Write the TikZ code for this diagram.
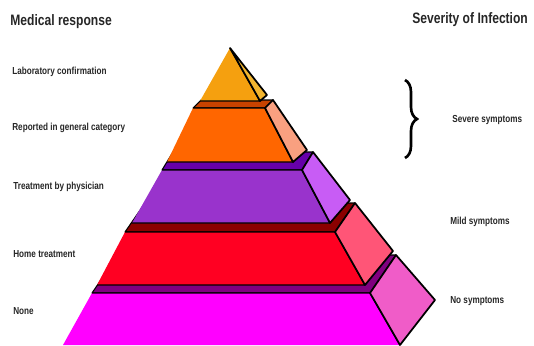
\documentclass[tikz,border=0pt]{standalone}
\usepackage{fontspec}
\setmainfont{Liberation Sans}[FakeStretch=0.8]
\usetikzlibrary{decorations.pathreplacing}
\definecolor{apexfront}{HTML}{F5A00F}
\definecolor{apexside}{HTML}{F2B530}
\definecolor{orangetop}{HTML}{C84300}
\definecolor{orangefront}{HTML}{FF6600}
\definecolor{orangeside}{HTML}{F9A080}
\definecolor{purpletop}{HTML}{6600AA}
\definecolor{purplefront}{HTML}{9933CC}
\definecolor{purpleside}{HTML}{C85CF5}
\definecolor{redtop}{HTML}{8B0000}
\definecolor{redfront}{HTML}{FF0022}
\definecolor{redside}{HTML}{FF5577}
\definecolor{magtop}{HTML}{800080}
\definecolor{magfront}{HTML}{FF00FF}
\definecolor{magside}{HTML}{F05CC8}

\begin{document}
\begin{tikzpicture}[
    x=0.02cm, y=-0.02cm,
    strip/.style={fill=#1, draw=black, line width=0.6pt, line join=round},
    side/.style={fill=#1, draw=black, line width=1pt, line join=round},
    front/.style={fill=#1},
    rim/.style={draw=black, line width=0.7pt, line join=round},
    head/.style={anchor=west, inner sep=0pt, font=\fontsize{8.6}{10}\selectfont\bfseries, text=black!85},
    lbl/.style={anchor=west, inner sep=0pt, font=\fontsize{5.8}{7}\selectfont\bfseries, text=black!85},
]
\useasboundingbox (0,0) rectangle (534,345);

% Bottom tier: no symptoms
\filldraw[strip=magtop] (92,293) -- (370,293) -- (396,255) -- (118,255) -- cycle;
\fill[front=magfront] (92,293) -- (370,293) -- (400,345) -- (63,345) -- cycle;
\draw[rim] (92,293) -- (370,293) -- (400,345);
\filldraw[side=magside] (370,293) -- (396,255) -- (435,300) -- (400,345) -- cycle;

% Home treatment
\filldraw[strip=redtop] (125,232) -- (335,232) -- (355,203) -- (145,203) -- cycle;
\fill[front=redfront] (125,232) -- (335,232) -- (365,285) -- (97,285) -- cycle;
\draw[rim] (125,232) -- (335,232) -- (365,285) -- (97,285);
\filldraw[side=redside] (335,232) -- (355,203) -- (393,251) -- (365,285) -- cycle;

% Treatment by physician
\filldraw[strip=purpletop] (162,170) -- (302,170) -- (313,152) -- (173,152) -- cycle;
\fill[front=purplefront] (162,170) -- (302,170) -- (330,223) -- (132,223) -- cycle;
\draw[rim] (162,170) -- (302,170) -- (330,223) -- (132,223);
\filldraw[side=purpleside] (302,170) -- (313,152) -- (350,200) -- (330,223) -- cycle;

% Reported in general category
\filldraw[strip=orangetop] (193,108) -- (265,108) -- (273,100) -- (201,100) -- cycle;
\fill[front=orangefront] (193,108) -- (265,108) -- (293,162) -- (167,162) -- cycle;
\draw[rim] (193,108) -- (265,108) -- (293,162) -- (167,162);
\filldraw[side=orangeside] (265,108) -- (273,100) -- (307,150) -- (293,162) -- cycle;

% Laboratory confirmation (apex)
\fill[front=apexfront] (230,48) -- (260,101) -- (200,101) -- cycle;
\draw[rim] (230,48) -- (260,101) -- (200,101);
\filldraw[side=apexside] (230,48) -- (267,95) -- (260,101) -- cycle;

% Headings
\node[head] (medical) at (10,22) {Medical response};
\node[head] (severity) at (412,20) {Severity of Infection};

% Medical response levels
\node[lbl] (lab) at (12,72) {Laboratory confirmation};
\node[lbl] (reported) at (12,128) {Reported in general category};
\node[lbl] (physician) at (13,187) {Treatment by physician};
\node[lbl] (home) at (13,254) {Home treatment};
\node[lbl] (none) at (13,311) {None};

% Severity levels
\coordinate (bracetop) at (405,80);
\coordinate (bracebot) at (405,158);
\draw[line width=1.5pt, decorate, decoration={brace, amplitude=0.24cm}] (bracetop) -- (bracebot);
\node[lbl] (severe) at (452,120) {Severe symptoms};
\node[lbl] (mild) at (450,222) {Mild symptoms};
\node[lbl] (nosym) at (450,301) {No symptoms};

\end{tikzpicture}
\end{document}
